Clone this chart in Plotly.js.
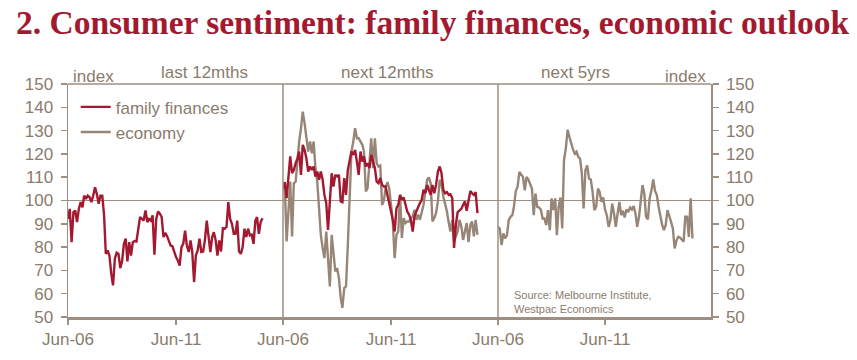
<!DOCTYPE html>
<html><head><meta charset="utf-8">
<script src="https://cdn.plot.ly/plotly-3.0.1.min.js"></script>
<style>body{margin:0;background:#fff}#chart{width:857px;height:360px}</style>
</head><body><div id="chart"></div>
<script>
// Monthly series starting Jun-2006
const startYear = 2006, startMonth = 6;

const panelTitles = ['last 12mths', 'next 12mths', 'next 5yrs'];
const tickVals = ['2006-06-01', '2011-06-01'];
const tickText = ['Jun-06', 'Jun-11'];
const seriesNames = ['family finances', 'economy'];

// Family finances, last 12 months
const ffLast12 = [
92.1, 96.4, 82.1, 95, 95.7, 90.7, 96.4, 99.3, 97.1, 102.1,
100.7, 102.1, 101.4, 99.3, 102.1, 105.7, 102.9, 98.6, 102.1, 102.1,
93.6, 77.1, 78.6, 76.4, 68.6, 63.6, 75, 77.6, 77.1, 71,
73.9, 81.4, 83.6, 73.9, 82.1, 76.4, 82.1, 82.6, 82.4, 87.9,
92.9, 92.1, 91.4, 95.7, 90.7, 92.1, 91.4, 93.6, 76.7, 92.1,
95.3, 94.3, 92.9, 84.3, 86.1, 84.7, 82.1, 80.7, 80.4, 77.9,
75.7, 74.3, 72.1, 80, 81.4, 87.1, 80.7, 77.9, 82.9, 77.9,
65, 76.4, 78.6, 83.6, 77.9, 78.1, 82.9, 91.4, 85.7, 77.9,
84.3, 86.4, 82.9, 76.4, 82.9, 78.1, 88.1, 87.9, 88.6, 99.3,
92.1, 90, 85.7, 85.7, 91.4, 78.1, 77.1, 80, 87.9, 84.3,
87.9, 85, 85.3, 81.4, 91.4, 92.9, 85.7, 90.7, 92.4];

// Family finances, next 12 months
const ffNext12 = [
105.3, 107.9, 101, 108.9, 118.9, 111.7, 113.1, 116, 118.1, 121,
111, 123.9, 121.7, 118.1, 112.4, 114.6, 113.1, 114.6, 110.3, 112.4,
108.9, 112.4, 108.9, 102.4, 98.9, 87.4, 101, 111.7, 106, 111,
110.3, 111, 99.6, 99.3, 109.6, 102.4, 113.1, 117.4, 121, 119.6,
121.7, 116.7, 111, 121, 116.7, 118.9, 114.6, 116, 113.9, 119.6,
116.7, 113.9, 108.1, 107.4, 109.6, 106.7, 106,
106, 102.4, 98.1, 95.3, 91.7, 86.7, 96.7, 98.1, 102.4, 100.3,
101.3, 98.1, 95.3, 93.9, 91.7, 86.7, 93.1, 95.3, 97.4, 98.9,
100.3, 104.6, 103.1, 106.7, 104.6, 102.4, 106.7, 103.1, 106.7, 112.4,
114.6, 111.7, 104.6, 103.1, 103.6, 102.4, 102.7, 101, 79.6, 89.6,
95, 95.6, 96.4, 98.1, 99.6, 95.6, 99.6, 104.1, 103.1, 102.4,
103.6, 94.6];

// Economy, next 12 months
const econNext12 = [
104.6, 106.7, 82.4, 98.1, 108.1, 84.6, 107.4, 108.1, 117.4, 125.3,
131, 138.1, 133.1, 128.1, 121, 125.3, 120.3, 125.3, 113.9, 108.1,
98.1, 85.3, 79.6, 75.3, 86.7, 73.9, 63.1, 85.3, 78.1, 69.6,
71, 66.7, 58.1, 53.9, 62.4, 63.1, 81, 105.3, 121, 125.3,
131, 126.7, 126.7, 125.3, 123.9, 121, 103.9, 105.3, 118.1, 126.7,
113.9, 126.7, 116, 114.6, 115, 98.1, 100,
105.3, 107.9, 105.3, 98.1, 91, 75.3, 85.3, 86.7, 102.4, 83.9,
92.4, 90.3, 91, 91, 92.4, 93.1, 96, 91.7, 93.9, 91.7,
95.3, 98.1, 103.9, 108.9, 109.9, 107.4, 91, 92.4, 94.6, 99.6,
108.9, 106.7, 101.7, 98.9, 95.3, 90.3, 86.7, 91.7, 82.4, 84.6,
86.7, 91.7, 88.9, 83.1, 86.7, 90.3, 82.1, 89.6, 91, 84.6,
91.7, 85.3];

// Economy, next 5 years
const econNext5 = [
88.7, 88, 80.9, 85.9, 83.7, 85.1, 91.6, 93, 93.7, 97.6,
104.1, 105.9, 112.3, 110.9, 110.1, 104.4, 110.1, 109, 106.6, 105.1,
93.7, 103, 97.3, 97, 96.1, 92.3, 92.3, 89.4, 95.9, 87.3,
100.9, 95.9, 100.9, 85.1, 97.3, 101.3, 88, 117.3, 122.3, 130.4,
127.3, 124.1, 121.9, 120.1, 120.9, 118.7, 118, 111.6, 96.6, 113,
115.1, 109.4, 109, 103.7, 95.9, 97.3, 105.1, 103.7, 99.4, 101.3,
96.1, 93.7, 88.7, 91.6, 98.7, 94.4, 88.7, 94.4, 99.4, 93.7,
95.6, 92.7, 96.1, 95.1, 97, 96.1, 97.6, 94.4, 88.7, 93,
100.1, 106.6, 103, 93, 91.9, 100.9, 104.4, 109, 104.1, 102.3,
97.3, 93, 89.4, 87.3, 89.4, 95.9, 93.7, 90.9, 88, 79.4,
82.7, 84.4, 84.1, 83.3, 82.3, 93, 93, 84.4, 100.9, 83.7];

function monthDates(n) {
  const out = [];
  for (let i = 0; i < n; i++) {
    const t = startMonth - 1 + i;
    const y = startYear + Math.floor(t / 12);
    const m = (t % 12) + 1;
    out.push(y + '-' + String(m).padStart(2, '0') + '-01');
  }
  return out;
}

const RED = '#A3192F';
const GREY = '#978677';
const TXT = '#8A7B6C';
const AX = '#9E8F82';
const LW = 2.4;

const traces = [
  {x: monthDates(ffLast12.length), y: ffLast12, xaxis: 'x', yaxis: 'y', type: 'scatter', mode: 'lines',
   line: {color: RED, width: LW}, name: seriesNames[0], showlegend: false},
  {x: monthDates(econNext12.length), y: econNext12, xaxis: 'x2', yaxis: 'y', type: 'scatter', mode: 'lines',
   line: {color: GREY, width: LW}, name: seriesNames[1], showlegend: true, legendrank: 2},
  {x: monthDates(ffNext12.length), y: ffNext12, xaxis: 'x2', yaxis: 'y', type: 'scatter', mode: 'lines',
   line: {color: RED, width: LW}, name: seriesNames[0], showlegend: true, legendrank: 1},
  {x: monthDates(econNext5.length), y: econNext5, xaxis: 'x3', yaxis: 'y2', type: 'scatter', mode: 'lines',
   line: {color: GREY, width: LW}, name: seriesNames[1], showlegend: false}
];

const xRange = ['2006-06-01', '2016-05-13'];
const d1 = 215 / 643, d2 = 430 / 643;
function xax(domain) {
  return {domain: domain, anchor: 'y', type: 'date', range: xRange, tickmode: 'array',
    tickvals: tickVals, ticktext: tickText, ticks: 'outside', ticklen: 5, tickwidth: 1.5, tickcolor: AX,
    showline: true, linecolor: AX, linewidth: 2.5, showgrid: false, zeroline: false,
    tickfont: {family: 'Liberation Sans, Arial, sans-serif', size: 17, color: TXT}, fixedrange: true};
}
function yax(side, anchor) {
  return {domain: [0, 1], anchor: anchor, side: side, range: [50, 150], dtick: 10, tick0: 50,
    ticks: 'outside', ticklen: 6, tickwidth: 1.5, tickcolor: AX, showline: true, linecolor: AX, linewidth: 1.5,
    showgrid: false, zeroline: false, ticklabelstandoff: 4,
    tickfont: {family: 'Liberation Sans, Arial, sans-serif', size: 17, color: TXT}, fixedrange: true};
}

const annFont = {family: 'Liberation Sans, Arial, sans-serif', size: 17, color: TXT};
const layout = {
  width: 857, height: 360,
  margin: {l: 68, r: 146, t: 84, b: 43},
  paper_bgcolor: '#fff', plot_bgcolor: '#fff',
  title: {text: '2. Consumer sentiment: family finances, economic outlook',
    font: {family: 'Liberation Serif, serif', size: 33.5, weight: 'bold', color: RED},
    x: 16 / 857, xanchor: 'left', y: 0.97, yanchor: 'top'},
  xaxis: xax([0, d1]),
  xaxis2: xax([d1, d2]),
  xaxis3: xax([d2, 1]),
  yaxis: yax('left', 'x'),
  yaxis2: yax('right', 'x3'),
  showlegend: true,
  legend: {x: 0.012, y: 0.977, xanchor: 'left', yanchor: 'top', bgcolor: 'rgba(0,0,0,0)',
    font: {family: 'Liberation Sans, Arial, sans-serif', size: 17, color: TXT}, traceorder: 'normal',
    tracegroupgap: 0, itemwidth: 30},
  shapes: [
    {type: 'line', xref: 'paper', yref: 'paper', x0: 0, x1: 1, y0: 1, y1: 1, line: {color: AX, width: 1.5}},
    {type: 'line', xref: 'paper', yref: 'paper', x0: d1, x1: d1, y0: 0, y1: 1, line: {color: AX, width: 1.5}},
    {type: 'line', xref: 'paper', yref: 'paper', x0: d2, x1: d2, y0: 0, y1: 1, line: {color: AX, width: 1.5}},
    {type: 'line', xref: 'paper', yref: 'y', x0: 0, x1: 1, y0: 100, y1: 100, line: {color: AX, width: 1.2}, layer: 'below'}
  ],
  annotations: [
    {text: 'index', xref: 'paper', yref: 'paper', x: 0.004, y: 1.034, xanchor: 'left', yanchor: 'middle', showarrow: false, font: annFont},
    {text: panelTitles[0], xref: 'paper', yref: 'paper', x: 0.213, y: 1.05, xanchor: 'center', yanchor: 'middle', showarrow: false, font: annFont},
    {text: panelTitles[1], xref: 'paper', yref: 'paper', x: 0.497, y: 1.05, xanchor: 'center', yanchor: 'middle', showarrow: false, font: annFont},
    {text: panelTitles[2], xref: 'paper', yref: 'paper', x: 0.789, y: 1.05, xanchor: 'center', yanchor: 'middle', showarrow: false, font: annFont},
    {text: 'index', xref: 'paper', yref: 'paper', x: 0.9953, y: 1.034, xanchor: 'right', yanchor: 'middle', showarrow: false, font: annFont},
    {text: 'Source: Melbourne Institute,<br>Westpac Economics', xref: 'paper', yref: 'paper', x: 0.69, y: 0.13,
     xanchor: 'left', yanchor: 'top', align: 'left', showarrow: false,
     font: {family: 'Liberation Sans, Arial, sans-serif', size: 11, color: TXT}}
  ]
};

Plotly.newPlot('chart', traces, layout, {displayModeBar: false, staticPlot: true});
</script>
</body></html>
